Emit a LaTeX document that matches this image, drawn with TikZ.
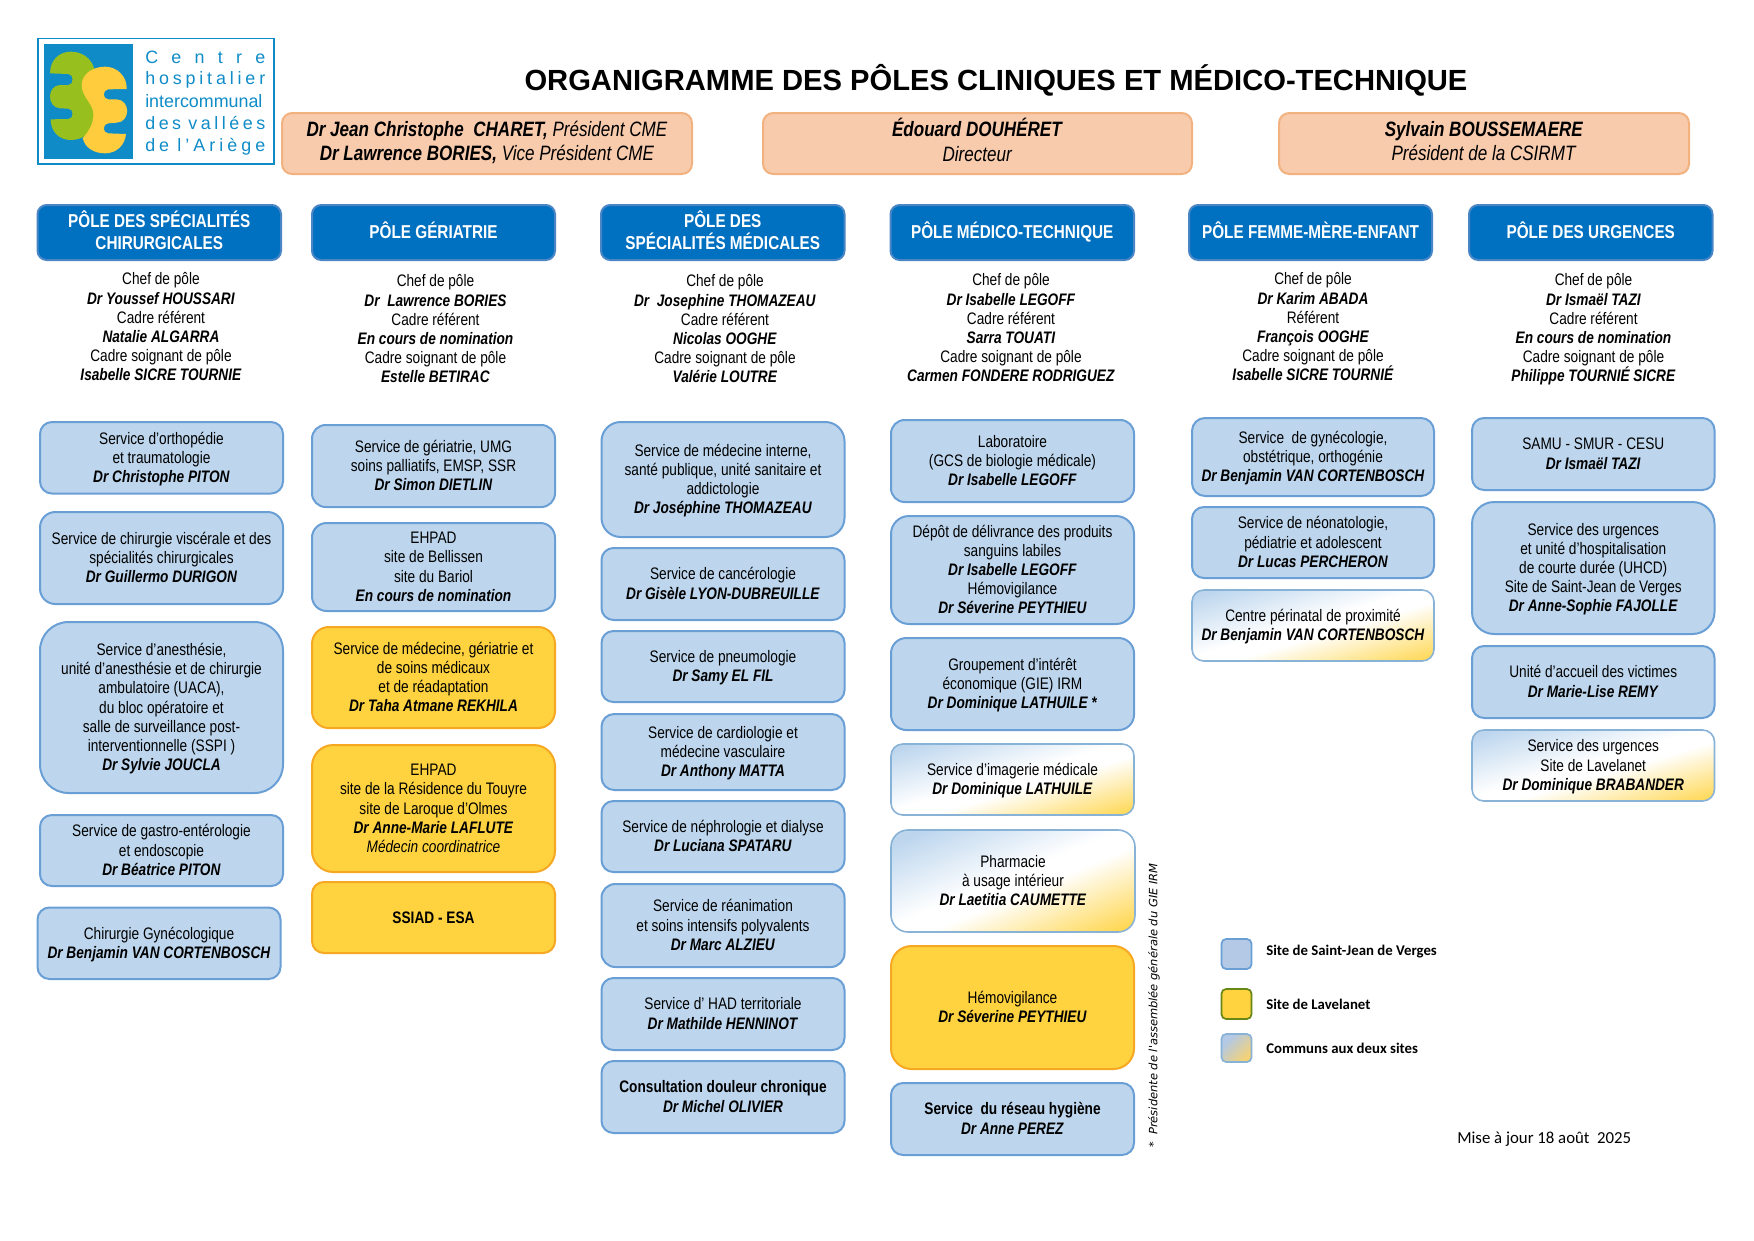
\documentclass[tikz,border=0pt]{standalone}
\usepackage{fontspec}
\setmainfont{Liberation Sans}[FakeStretch=0.82]
\newfontfamily\plainarial{Liberation Sans}
\newfontfamily\calfont{Carlito}
\newfontfamily\djfont{DejaVu Sans}
\setlength{\lineskiplimit}{-5pt}
\definecolor{blufill}{HTML}{BDD6EE}
\definecolor{bluline}{HTML}{6A9FD6}
\definecolor{yelfill}{HTML}{FFD340}
\definecolor{yelline}{HTML}{F7A823}
\definecolor{orafill}{HTML}{F8CBAD}
\definecolor{oraline}{HTML}{F2B27F}
\definecolor{hdrfill}{HTML}{0070C0}
\definecolor{hdrline}{HTML}{4A86C5}
\definecolor{logoblue}{HTML}{0F8CC8}
\definecolor{logogreen}{HTML}{97BF1E}
\definecolor{logoyellow}{HTML}{FFCC3E}
\definecolor{gradline}{HTML}{88B2D6}
\definecolor{lgblue}{HTML}{B4C9E5}
\definecolor{lgtan}{HTML}{F6D272}
\pgfdeclareverticalshading{diagsite}{100bp}{color(0bp)=(yelfill); color(17bp)=(yelfill); color(45bp)=(white); color(52bp)=(white); color(78bp)=(blufill); color(100bp)=(blufill)}
\pgfdeclareverticalshading{diaglegend}{100bp}{color(0bp)=(lgtan); color(25bp)=(lgtan); color(70bp)=(lgblue); color(100bp)=(lgblue)}
\newcommand{\nm}[1]{\textbf{\textit{#1}}}
\newcommand{\fs}{\fontsize{12.5pt}{14.4pt}\selectfont}
\newcommand{\topst}{\rule{0pt}{12.6pt}}
\tikzset{
  bluebox/.style={draw=bluline,fill=blufill,line width=1.5pt},
  yelbox/.style={draw=yelline,fill=yelfill,line width=1.5pt},
  gradbox/.style={draw=gradline,shading=diagsite,shading angle=\ba,line width=1.2pt},
  orabox/.style={draw=oraline,fill=orafill,line width=1.5pt},
  oratxt/.style={align=center,inner sep=0pt,font=\fontsize{15.6pt}{18.5pt}\selectfont},
  hdrbox/.style={draw=hdrline,fill=hdrfill,line width=1.5pt},
  hdrtxt/.style={align=center,inner sep=0pt,text=white,font=\bfseries\fontsize{14pt}{16pt}\selectfont},
  lead/.style={align=center,inner sep=0pt,font=\fs},
  legsq/.style={inner sep=0pt,rounded corners=3.5pt,line width=1.3pt},
  legtxt/.style={anchor=west,inner sep=0pt,font=\calfont\bfseries\fontsize{11.1pt}{13pt}\selectfont},
  logotxt/.style={anchor=west,inner sep=0pt,text=logoblue,font=\plainarial\fontsize{13.4pt}{16pt}\selectfont}
}
% name, style, x1, y1, x2, y2, text
\newcommand{\bx}[7]{%
  \pgfmathsetmacro{\bw}{#5-#3}\pgfmathsetmacro{\bh}{#6-#4}%
  \pgfmathsetmacro{\br}{0.75*0.1667*min(\bw,\bh)}%
  \pgfmathsetmacro{\ba}{atan(\bh/\bw)}%
  \node[font=\fs,#2,rounded corners=\br pt,align=center,inner sep=0pt,
        minimum width=\bw*0.75pt,minimum height=\bh*0.75pt] (#1) at ({(#3+#5)/2},{(#4+#6)/2}) {\topst #7\strut};}
\begin{document}
\begin{tikzpicture}[x=0.75pt,y=-0.75pt]
\useasboundingbox (0,0) rectangle (1754,1240);
\fill[white] (0,0) rectangle (1754,1240);
% logo
\draw[logoblue,line width=1.2pt] (38,38.5) rectangle (274,164);
\fill[logoblue] (44,44) rectangle (133,159);
\begin{scope}[shift={(0,20)},x=0.25pt,y=-0.25pt]
\fill[logogreen] (150,160) .. controls (150,120) and (178,95) .. (212,95)
  .. controls (255,95) and (285,125) .. (285,165) -- (285,300)
  .. controls (280,335) and (250,360) .. (212,360)
  .. controls (178,360) and (152,335) .. (152,298) -- (205,297)
  .. controls (222,297) and (222,266) .. (205,266) -- (180,265)
  .. controls (140,262) and (140,197) .. (180,195) -- (205,195)
  .. controls (222,195) and (222,162) .. (205,162) -- cycle;
\fill[logoyellow] (245,195) .. controls (245,165) and (275,140) .. (315,140)
  .. controls (352,140) and (382,170) .. (380,207) -- (325,208)
  .. controls (307,208) and (307,238) .. (325,238) -- (350,238)
  .. controls (392,240) and (392,306) .. (350,308) -- (325,310)
  .. controls (307,310) and (307,340) .. (325,340) -- (378,342)
  .. controls (375,375) and (350,400) .. (315,400)
  .. controls (280,400) and (255,382) .. (248,355)
  .. controls (265,335) and (282,310) .. (280,280)
  .. controls (278,250) and (245,230) .. (245,195) -- cycle;
\end{scope}
\node[logotxt] (lg1) at (145,57) {\makebox[90pt][s]{C\hfill e\hfill n\hfill t\hfill r\hfill e}};
\node[logotxt] (lg2) at (145,80) {\makebox[90pt][s]{h\hfill o\hfill s\hfill p\hfill i\hfill t\hfill a\hfill l\hfill i\hfill e\hfill r}};
\node[logotxt] (lg3) at (145,101) {\makebox[90pt][s]{intercommunal}};
\node[logotxt] (lg4) at (145,123) {\makebox[90pt][s]{d\hfill e\hfill s\hfill\hfill v\hfill a\hfill l\hfill l\hfill é\hfill e\hfill s}};
\node[logotxt] (lg5) at (145,147) {\makebox[90pt][s]{d\hfill e\hfill\hfill l\hfill ’\hfill A\hfill r\hfill i\hfill è\hfill g\hfill e}};
% title
\node[inner sep=0pt,font=\plainarial\bfseries\fontsize{21.87pt}{26pt}\selectfont] (title) at (996,80) {ORGANIGRAMME DES PÔLES CLINIQUES ET MÉDICO-TECHNIQUE};
% direction
\bx{dir1}{orabox}{282}{113}{692}{174}{}
\bx{dir2}{orabox}{763}{113}{1192}{174}{}
\bx{dir3}{orabox}{1279}{113}{1689}{174}{}
\node[oratxt] (dir1t) at (dir1.center) {\strut\nm{Dr Jean Christophe\ \ CHARET,} \textit{Président CME}\\\nm{Dr Lawrence BORIES,} \textit{Vice Président CME}\strut};
\node[oratxt] (dir2t) at (dir2.center) {\strut\nm{Édouard DOUHÉRET}\\\textit{Directeur}\strut};
\node[oratxt] (dir3t) at (dir3.center) {\strut\nm{Sylvain BOUSSEMAERE}\\\textit{Président de la CSIRMT}\strut};
% headers
\bx{h1}{hdrbox}{37.5}{205}{281}{260}{}
\bx{h2}{hdrbox}{312}{205}{555}{260}{}
\bx{h3}{hdrbox}{601}{205}{844.5}{260}{}
\bx{h4}{hdrbox}{890.5}{205}{1134}{260}{}
\bx{h5}{hdrbox}{1189}{205}{1432}{260}{}
\bx{h6}{hdrbox}{1469}{205}{1712.5}{260}{}
\node[hdrtxt] (h1t) at ([yshift=-0.7pt]h1.center) {\strut PÔLE DES SPÉCIALITÉS\\CHIRURGICALES\strut};
\node[hdrtxt] (h2t) at ([yshift=-0.7pt]h2.center) {\strut PÔLE GÉRIATRIE\strut};
\node[hdrtxt] (h3t) at ([yshift=-0.7pt]h3.center) {\strut PÔLE DES\\SPÉCIALITÉS MÉDICALES\strut};
\node[hdrtxt] (h4t) at ([yshift=-0.7pt]h4.center) {\strut PÔLE MÉDICO-TECHNIQUE\strut};
\node[hdrtxt] (h5t) at ([yshift=-0.7pt]h5.center) {\strut PÔLE FEMME-MÈRE-ENFANT\strut};
\node[hdrtxt] (h6t) at ([yshift=-0.7pt]h6.center) {\strut PÔLE DES URGENCES\strut};
% leads
\node[lead] (l1) at (161,329) {\strut Chef de pôle\\\nm{Dr Youssef HOUSSARI}\\Cadre référent\\\nm{Natalie ALGARRA}\\Cadre soignant de pôle\\\nm{Isabelle SICRE TOURNIE}\strut};
\node[lead] (l2) at (435.5,331) {\strut Chef de pôle\\\nm{Dr\ \ Lawrence BORIES}\\Cadre référent\\\nm{En cours de nomination}\\Cadre soignant de pôle\\\nm{Estelle BETIRAC}\strut};
\node[lead] (l3) at (725,331) {\strut Chef de pôle\\\nm{Dr\ \ Josephine THOMAZEAU}\\Cadre référent\\\nm{Nicolas OOGHE}\\Cadre soignant de pôle\\\nm{Valérie LOUTRE}\strut};
\node[lead] (l4) at (1011,330) {\strut Chef de pôle\\\nm{Dr Isabelle LEGOFF}\\Cadre référent\\\nm{Sarra TOUATI}\\Cadre soignant de pôle\\\nm{Carmen FONDERE RODRIGUEZ}\strut};
\node[lead] (l5) at (1313,329) {\strut Chef de pôle\\\nm{Dr Karim ABADA}\\Référent\\\nm{François OOGHE}\\Cadre soignant de pôle\\\nm{Isabelle SICRE TOURNIÉ}\strut};
\node[lead] (l6) at (1593.5,330) {\strut Chef de pôle\\\nm{Dr Ismaël TAZI}\\Cadre référent\\\nm{En cours de nomination}\\Cadre soignant de pôle\\\nm{Philippe TOURNIÉ SICRE}\strut};
% column 1
\bx{a1}{bluebox}{40}{422}{283}{493.5}{Service d’orthopédie\\et traumatologie\\\nm{Dr Christophe PITON}}
\bx{a2}{bluebox}{40}{512}{283}{604}{Service de chirurgie viscérale et des\\spécialités chirurgicales\\\nm{Dr Guillermo DURIGON}}
\bx{a3}{bluebox}{40}{622}{283}{793}{Service d’anesthésie,\\unité d’anesthésie et de chirurgie\\ambulatoire (UACA),\\du bloc opératoire et\\salle de surveillance post-\\interventionnelle (SSPI )\\\nm{Dr Sylvie JOUCLA}}
\bx{a4}{bluebox}{40}{815}{283}{886}{Service de gastro-entérologie\\et endoscopie\\\nm{Dr Béatrice PITON}}
\bx{a5}{bluebox}{37.5}{907.5}{280.5}{979}{Chirurgie Gynécologique\\\nm{Dr Benjamin VAN CORTENBOSCH}}
% column 2
\bx{b1}{bluebox}{312}{425}{555}{507}{Service de gériatrie, UMG\\soins palliatifs, EMSP, SSR\\\nm{Dr Simon DIETLIN}}
\bx{b2}{bluebox}{312}{523}{555}{611}{EHPAD\\site de Bellissen\\site du Bariol\\\nm{En cours de nomination}}
\bx{b3}{yelbox}{312}{627}{555}{728}{Service de médecine, gériatrie et\\de soins médicaux\\et de réadaptation\\\nm{Dr Taha Atmane REKHILA}}
\bx{b4}{yelbox}{312}{745}{555}{872}{EHPAD\\site de la Résidence du Touyre\\site de Laroque d’Olmes\\\nm{Dr Anne-Marie LAFLUTE}\\\textit{Médecin coordinatrice}}
\bx{b5}{yelbox}{312}{882}{555}{953}{\textbf{SSIAD - ESA}}
% column 3
\bx{c1}{bluebox}{601.5}{422}{844.5}{537}{Service de médecine interne,\\santé publique, unité sanitaire et\\addictologie\\\nm{Dr Joséphine THOMAZEAU}}
\bx{c2}{bluebox}{601.5}{548}{844.5}{620}{Service de cancérologie\\\nm{Dr Gisèle LYON-DUBREUILLE}}
\bx{c3}{bluebox}{601.5}{631}{844.5}{702}{Service de pneumologie\\\nm{Dr Samy EL FIL}}
\bx{c4}{bluebox}{601.5}{714}{844.5}{790}{Service de cardiologie et\\médecine vasculaire\\\nm{Dr Anthony MATTA}}
\bx{c5}{bluebox}{601.5}{801}{844.5}{872}{Service de néphrologie et dialyse\\\nm{Dr Luciana SPATARU}}
\bx{c6}{bluebox}{601.5}{884}{844.5}{967}{Service de réanimation\\et soins intensifs polyvalents\\\nm{Dr Marc ALZIEU}}
\bx{c7}{bluebox}{601.5}{978}{844.5}{1050}{Service d’ HAD territoriale\\\nm{Dr Mathilde HENNINOT}}
\bx{c8}{bluebox}{601.5}{1061}{844.5}{1133}{\textbf{Consultation douleur chronique}\\\nm{Dr Michel OLIVIER}}
% column 4
\bx{d1}{bluebox}{891}{420}{1134}{502}{Laboratoire\\(GCS de biologie médicale)\\\nm{Dr Isabelle LEGOFF}}
\bx{d2}{bluebox}{891}{516}{1134}{624}{Dépôt de délivrance des produits\\sanguins labiles\\\nm{Dr Isabelle LEGOFF}\\Hémovigilance\\\nm{Dr Séverine PEYTHIEU}}
\bx{d3}{bluebox}{891}{638}{1134}{730}{Groupement d’intérêt\\économique (GIE) IRM\\\nm{Dr Dominique LATHUILE *}}
\bx{d4}{gradbox}{891}{744}{1134}{815}{Service d’imagerie médicale\\\nm{Dr Dominique LATHUILE}}
\bx{d5}{gradbox}{891}{830}{1135}{932}{Pharmacie\\à usage intérieur\\\nm{Dr Laetitia CAUMETTE}}
\bx{d6}{yelbox}{891}{946}{1134}{1069}{Hémovigilance\\\nm{Dr Séverine PEYTHIEU}}
\bx{d7}{bluebox}{891}{1083}{1134}{1155}{\textbf{Service\ \ du réseau hygiène}\\\nm{Dr Anne PEREZ}}
% column 5
\bx{e1}{bluebox}{1192}{418}{1434}{496}{Service\ \ de gynécologie,\\obstétrique, orthogénie\\\nm{Dr Benjamin VAN CORTENBOSCH}}
\bx{e2}{bluebox}{1192}{507}{1434}{578}{Service de néonatologie,\\pédiatrie et adolescent\\\nm{Dr Lucas PERCHERON}}
\bx{e3}{gradbox}{1192}{590}{1434}{661}{Centre périnatal de proximité\\\nm{Dr Benjamin VAN CORTENBOSCH}}
% column 6
\bx{f1}{bluebox}{1472}{418}{1714.5}{490}{SAMU - SMUR - CESU\\\nm{Dr Ismaël TAZI}}
\bx{f2}{bluebox}{1472}{502}{1714.5}{634}{Service des urgences\\et unité d'hospitalisation\\de courte durée (UHCD)\\Site de Saint-Jean de Verges\\\nm{Dr Anne-Sophie FAJOLLE}}
\bx{f3}{bluebox}{1472}{646}{1714.5}{718}{Unité d'accueil des victimes\\\nm{Dr Marie-Lise REMY}}
\bx{f4}{gradbox}{1472}{730}{1714.5}{801}{Service des urgences\\Site de Lavelanet\\\nm{Dr Dominique BRABANDER}}
% footnote
\node[rotate=90,anchor=west,inner sep=0pt,font=\djfont\itshape\fontsize{8.6pt}{10pt}\selectfont] (note) at (1154,1148) {*\ \ Présidente de l'assemblée générale du GIE IRM};
% legend
\node[legsq,draw=bluline,fill=lgblue,minimum width=22.5pt,minimum height=22.5pt] (ls1) at (1236.5,954) {};
\node[legsq,draw=logogreen!70!black,fill=yelfill,minimum width=22.5pt,minimum height=22.5pt] (ls2) at (1236.5,1004) {};
\node[legsq,draw=gradline,shading=diaglegend,shading angle=45,minimum width=22.5pt,minimum height=21pt] (ls3) at (1236.5,1048) {};
\node[legtxt] (lt1) at (1266,952) {Site de Saint-Jean de Verges};
\node[legtxt] (lt2) at (1266,1004) {Site de Lavelanet};
\node[legtxt] (lt3) at (1266,1048) {Communs aux deux sites};
\node[anchor=west,inner sep=0pt,font=\calfont\fontsize{12.6pt}{14pt}\selectfont] (date) at (1457,1139) {Mise à jour 18 août\ \ 2025};
\end{tikzpicture}
\end{document}
